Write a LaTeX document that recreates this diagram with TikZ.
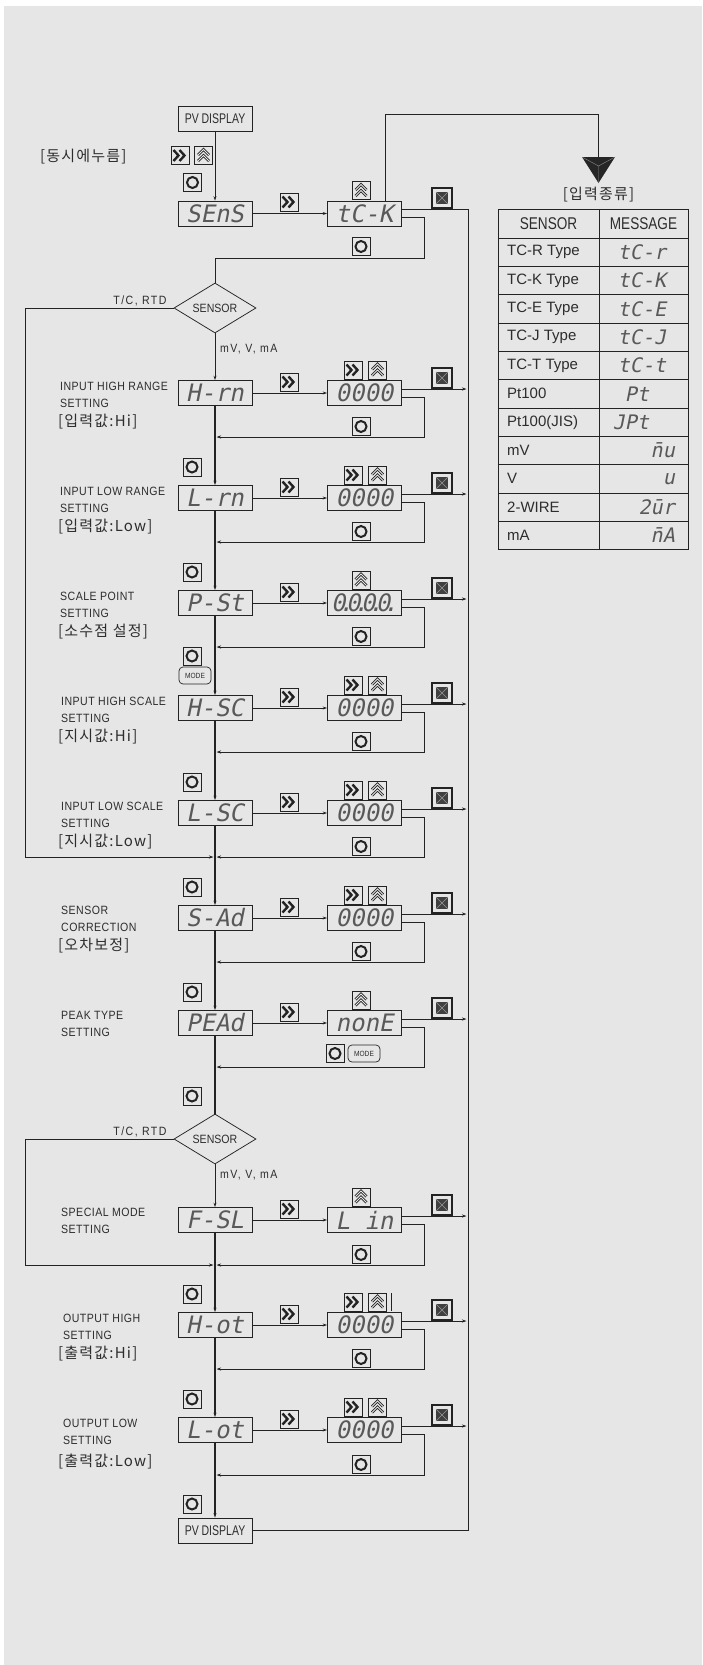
\documentclass[tikz,border=0pt]{standalone}
\usepackage{fontspec}
\setmainfont{Liberation Sans}[FakeStretch=0.88]
\newfontfamily\lblf{Liberation Sans}[FakeStretch=0.88,LetterSpace=4]
\newfontfamily\smf{Liberation Sans}[FakeStretch=0.88,LetterSpace=12]
\newfontfamily\krf{Noto Sans CJK KR}[LetterSpace=8]
\newfontfamily\segf{DejaVu Sans Mono}[FakeSlant=0.2]
\newfontfamily\tblf{Liberation Sans}
\newfontfamily\hdrf{Liberation Sans}[FakeStretch=0.8]
\newfontfamily\pvf{Liberation Sans}[FakeStretch=0.75]
\usetikzlibrary{arrows.meta,shapes.geometric}
\definecolor{bgc}{RGB}{230,230,230}
\definecolor{lc}{RGB}{35,35,35}
\definecolor{tc}{RGB}{45,45,45}
\tikzset{
 ln/.style={draw=lc, line width=0.75pt},
 mainln/.style={draw=lc, line width=1.6pt},
 arr/.style={-{Stealth[length=4.5pt,width=3pt]}},
 disp/.style={draw=lc, line width=0.8pt, minimum width=74pt, minimum height=25pt, inner sep=0pt, font=\segf\fontsize{24}{24}\selectfont, text=black!65},
 pvbox/.style={draw=lc, line width=0.8pt, minimum width=74pt, minimum height=25pt, inner sep=0pt, font=\pvf\fontsize{14}{14}\selectfont, text=tc},
 lbl/.style={anchor=west, inner sep=0pt, font=\lblf\fontsize{12}{12}\selectfont, text=tc},
 krl/.style={anchor=west, inner sep=0pt, font=\krf\fontsize{15}{15}\selectfont, text=tc},
 small/.style={inner sep=0pt, font=\smf\fontsize{12}{12}\selectfont, text=tc},
 tbl/.style={inner sep=0pt, font=\tblf\fontsize{15}{15}\selectfont, text=tc},
 tblh/.style={inner sep=0pt, font=\hdrf\fontsize{17}{17}\selectfont, text=tc},
 tseg/.style={inner sep=0pt, font=\segf\fontsize{20}{20}\selectfont, text=black!65},
 btn/.style={draw=lc, line width=0.7pt, fill=bgc, minimum width=18pt, minimum height=18pt, inner sep=0pt},
 btnR/.style={btn, path picture={\draw[lc, line width=2.4pt, shift={(path picture bounding box.center)}] (-6.5,-5.5) -- (-1.5,0) -- (-6.5,5.5) (-0.5,-5.5) -- (4.5,0) -- (-0.5,5.5);}},
 btnU/.style={btn, path picture={\begin{scope}[shift={(path picture bounding box.center)}]\draw[lc, line width=2.6pt] (-5.5,-0.5) -- (0,-6) -- (5.5,-0.5) (-5.5,5.5) -- (0,0) -- (5.5,5.5);\draw[bgc, line width=0.9pt] (-5.5,-0.5) -- (0,-6) -- (5.5,-0.5) (-5.5,5.5) -- (0,0) -- (5.5,5.5);\end{scope}}},
 btnO/.style={btn, path picture={\draw[lc, line width=2pt] (path picture bounding box.center) circle[radius=5.5pt];}},
 btnX/.style={btn, line width=1.6pt, minimum width=20pt, minimum height=20pt, path picture={\begin{scope}[shift={(path picture bounding box.center)}]\fill[black!75] (-6,-6) rectangle (6,6);\draw[black!40, line width=0.4pt] (-6,-6) -- (6,6) (-6,6) -- (6,-6);\end{scope}}},
 modeb/.style={draw=lc, line width=0.7pt, fill=bgc, rounded corners=4pt, minimum width=32pt, minimum height=17pt, inner sep=0pt, font=\fontsize{7.5}{8}\selectfont, text=tc},
 dia/.style={diamond, draw=lc, line width=0.75pt, fill=bgc, minimum width=82pt, minimum height=50pt, aspect=1.64, inner sep=0pt, font=\fontsize{12}{12}\selectfont, text=tc},
}
\newcommand\SetRowX[5]{%
 \node[disp] (#1d) at (215,#2) {#3};
 \node[disp] (#1v) at (364.5,#2) {#4};
 \node[btnR] (#1r) at (289,#2-11) {};
 \node[btnX] (#1x) at (442,#2-15) {};
 \coordinate (#1j) at (216.5,#5);
 \draw[ln,arr] (#1d) -- (#1v);
 \draw[ln,arr] ([yshift=4pt]#1v.east) -- (466.5,#2-4);
 \draw[ln,arr] ([yshift=-4pt]#1v.east) -| (424,#5) -- (#1j);
}
\newcommand\BtnRU[2]{\node[btnR] (#1ar) at (353,#2-23) {}; \node[btnU] (#1au) at (377.5,#2-23) {};}
\newcommand\BtnUp[2]{\node[btnU] (#1au) at (361,#2-23) {};}
\newcommand\BtnOBelow[2]{\node[btnO] (#1ob) at (361,#2-10.5) {};}
\newcommand\BtnOAbove[2]{\node[btnO] (#1oa) at (192,#2) {};}
\newcommand\zdots{0\kern-7pt.\kern-7pt0\kern-7pt.\kern-7pt0\kern-7pt.\kern-7pt0\kern-7pt.}
\begin{document}
\begin{tikzpicture}[x=1pt,y=-1pt]
\useasboundingbox (0,0) rectangle (702,1665);
\fill[white] (0,0) rectangle (702,1665);
\fill[bgc] (4,6) rectangle (702,1665);

% ---------- top part
\node[pvbox] (pvtop) at (215,118.5) {PV DISPLAY};
\node[krl] (simul) at (40,157) {[동시에누름]};
\node[btnR] (pr) at (180,155.5) {};
\node[btnU] (pu) at (203.5,155.5) {};
\node[btnO] (po) at (192.5,182.5) {};
\node[disp] (sens) at (215,213.5) {SEnS};
\node[disp] (tck) at (364.5,213.5) {tC-K};
\node[btnR] (sr) at (289,202) {};
\node[btnU] (tcu) at (361,190.5) {};
\node[btnX] (tcx) at (442,198) {};
\node[btnO] (tco) at (361,246.5) {};
\draw[ln,arr] (pvtop) -- (sens);
\draw[ln,arr] (sens) -- (tck);
\node[dia] (dia1) at (215,308) {SENSOR};
\draw[ln] ([yshift=-4pt]tck.east) -| (424,258) -- (215,258) -- (dia1.north);
\coordinate (tri) at (598.5,157);
\draw[ln] ([xshift=20.5pt]tck.north) -- (385,114) -- (598.5,114) -- (tri);
\fill[black!85] (582,157) -- (615,157) -- (598.5,183) -- cycle;
\draw[black!45, line width=0.4pt] (598.5,166) -- (582,157) (598.5,166) -- (615,157) (598.5,166) -- (598.5,183);
\node[krl, anchor=center] (kind) at (598.5,195) {[입력종류]};

\node[small, anchor=south] (tc1) at (140,306) {T/C, RTD};
\node[small, anchor=west] (mv1) at (220,349) {mV, V, mA};
\draw[ln,arr] (dia1.west) -- (25,308) -- (25,857) -- (213.5,857);

% ---------- rows
\SetRowX{Hrn}{393}{H-rn}{0000}{437}
\BtnRU{Hrn}{393} \BtnOBelow{Hrn}{437}
\draw[ln,arr] (dia1.south) -- (Hrnd.north);
\node[lbl] (Hrnl1) at (60,386) {INPUT HIGH RANGE};
\node[lbl] (Hrnl2) at (60,403) {SETTING};
\node[krl] (Hrnl3) at (58,422) {[입력값:Hi]};

\SetRowX{Lrn}{498}{L-rn}{0000}{542}
\BtnRU{Lrn}{498} \BtnOBelow{Lrn}{542} \BtnOAbove{Lrn}{467}
\node[lbl] (Lrnl1) at (60,491) {INPUT LOW RANGE};
\node[lbl] (Lrnl2) at (60,508) {SETTING};
\node[krl] (Lrnl3) at (58,527) {[입력값:Low]};

\SetRowX{PSt}{603}{P-St}{\zdots}{647}
\BtnUp{PSt}{603} \BtnOBelow{PSt}{647} \BtnOAbove{PSt}{572}
\node[lbl] (PStl1) at (60,596) {SCALE POINT};
\node[lbl] (PStl2) at (60,613) {SETTING};
\node[krl] (PStl3) at (58,632) {[소수점 설정]};

\SetRowX{HSC}{708}{H-SC}{0000}{752}
\BtnRU{HSC}{708} \BtnOBelow{HSC}{752} \BtnOAbove{HSC}{656}
\node[modeb] (HSCm) at (195,675.5) {MODE};
\node[lbl] (HSCl1) at (61,701) {INPUT HIGH SCALE};
\node[lbl] (HSCl2) at (61,718) {SETTING};
\node[krl] (HSCl3) at (58,737) {[지시값:Hi]};

\SetRowX{LSC}{813}{L-SC}{0000}{857}
\BtnRU{LSC}{813} \BtnOBelow{LSC}{857} \BtnOAbove{LSC}{782}
\node[lbl] (LSCl1) at (61,806) {INPUT LOW SCALE};
\node[lbl] (LSCl2) at (61,823) {SETTING};
\node[krl] (LSCl3) at (58,842) {[지시값:Low]};

\SetRowX{SAd}{918}{S-Ad}{0000}{962}
\BtnRU{SAd}{918} \BtnOBelow{SAd}{962} \BtnOAbove{SAd}{887}
\node[lbl] (SAdl1) at (61,910) {SENSOR};
\node[lbl] (SAdl2) at (61,927) {CORRECTION};
\node[krl] (SAdl3) at (58,946) {[오차보정]};

\SetRowX{PEA}{1023}{PEAd}{nonE}{1067}
\BtnUp{PEA}{1023} \BtnOAbove{PEA}{992}
\node[btnO] (PEAob) at (335,1053.5) {};
\node[modeb] (PEAm) at (364,1053.5) {MODE};
\node[lbl] (PEAl1) at (61,1015) {PEAK TYPE};
\node[lbl] (PEAl2) at (61,1032) {SETTING};

\BtnOAbove{dd}{1096}
\node[dia] (dia2) at (215,1139) {SENSOR};
\node[small, anchor=south] (tc2) at (140,1137) {T/C, RTD};
\node[small, anchor=west] (mv2) at (220,1175) {mV, V, mA};
\draw[ln,arr] (dia2.west) -- (25,1139) -- (25,1265) -- (213.5,1265);

\SetRowX{FSL}{1220}{F-SL}{L in}{1265}
\BtnUp{FSL}{1220} \BtnOBelow{FSL}{1265}
\draw[ln,arr] (dia2.south) -- (FSLd.north);
\node[lbl] (FSLl1) at (61,1212) {SPECIAL MODE};
\node[lbl] (FSLl2) at (61,1229) {SETTING};

\SetRowX{Hot}{1325}{H-ot}{0000}{1369}
\BtnRU{Hot}{1325} \BtnOBelow{Hot}{1369} \BtnOAbove{Hot}{1294}
\draw[ln] (391,1293) -- (391,1311);
\node[lbl] (Hotl1) at (63,1318) {OUTPUT HIGH};
\node[lbl] (Hotl2) at (63,1335) {SETTING};
\node[krl] (Hotl3) at (58,1354) {[출력값:Hi]};

\SetRowX{Lot}{1430}{L-ot}{0000}{1475}
\BtnRU{Lot}{1430} \BtnOBelow{Lot}{1475} \BtnOAbove{Lot}{1399}
\node[lbl] (Lotl1) at (63,1423) {OUTPUT LOW};
\node[lbl] (Lotl2) at (63,1440) {SETTING};
\node[krl] (Lotl3) at (58,1462) {[출력값:Low]};

\node[pvbox] (pvbot) at (215,1530.5) {PV DISPLAY};
\BtnOAbove{pvb}{1504}

% main vertical line
\draw[mainln,arr] (Hrnd.south) -- (Lrnd.north);
\draw[mainln,arr] (Lrnd.south) -- (PStd.north);
\draw[mainln,arr] (PStd.south) -- (HSCd.north);
\draw[mainln,arr] (HSCd.south) -- (LSCd.north);
\draw[mainln,arr] (LSCd.south) -- (SAdd.north);
\draw[mainln,arr] (SAdd.south) -- (PEAd.north);
\draw[mainln] (PEAd.south) -- (dia2.north);
\draw[mainln,arr] (FSLd.south) -- (Hotd.north);
\draw[mainln,arr] (Hotd.south) -- (Lotd.north);
\draw[mainln,arr] (Lotd.south) -- (pvbot.north);

% right bus
\draw[ln] ([yshift=4pt]tck.east) -- (468,209.5) -- (468,1530.5) -- (pvbot.east);

% ---------- table
\draw[ln] (498,209) rectangle (688,549.6);
\draw[ln] (599,209) -- (599,549.6);
\foreach \k in {0,...,10} \draw[ln] (498,238+28.33*\k) -- (688,238+28.33*\k);
\node[tblh] (th1) at (548.5,223.5) {SENSOR};
\node[tblh] (th2) at (643.5,223.5) {MESSAGE};
\node[tbl, anchor=west] (ta1) at (507,252.2) {TC-R Type};
\node[tbl, anchor=west] (ta2) at (507,280.5) {TC-K Type};
\node[tbl, anchor=west] (ta3) at (507,308.8) {TC-E Type};
\node[tbl, anchor=west] (ta4) at (507,337.2) {TC-J Type};
\node[tbl, anchor=west] (ta5) at (507,365.5) {TC-T Type};
\node[tbl, anchor=west] (ta6) at (507,393.8) {Pt100};
\node[tbl, anchor=west] (ta7) at (507,422.2) {Pt100(JIS)};
\node[tbl, anchor=west] (ta8) at (507,450.5) {mV};
\node[tbl, anchor=west] (ta9) at (507,478.8) {V};
\node[tbl, anchor=west] (ta10) at (507,507.2) {2-WIRE};
\node[tbl, anchor=west] (ta11) at (507,535.5) {mA};
\node[tseg] (tb1) at (642,252.2) {tC-r};
\node[tseg] (tb2) at (642,280.5) {tC-K};
\node[tseg] (tb3) at (642,308.8) {tC-E};
\node[tseg] (tb4) at (642,337.2) {tC-J};
\node[tseg] (tb5) at (642,365.5) {tC-t};
\node[tseg] (tb6) at (637,393.8) {Pt};
\node[tseg] (tb7) at (631,422.2) {JPt};
\node[tseg, anchor=east] (tb8) at (675,450.5) {\={n}u};
\node[tseg, anchor=east] (tb9) at (675,478.8) {u};
\node[tseg, anchor=east] (tb10) at (675,507.2) {2ūr};
\node[tseg, anchor=east] (tb11) at (675,535.5) {\={n}A};
\end{tikzpicture}
\end{document}
